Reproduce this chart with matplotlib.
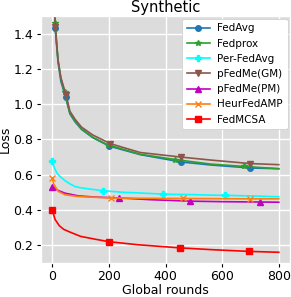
import numpy as np
import matplotlib
matplotlib.use("Agg")
import matplotlib.pyplot as plt

plt.style.use("ggplot")

# FedAvg
x_avg = [0, 5, 10, 20, 30, 47, 62, 80, 103, 143, 201, 310, 455, 560, 700, 800]
y_avg = [2.6, 1.8, 1.43, 1.24, 1.13, 1.038, 0.945, 0.90, 0.857, 0.81, 0.762, 0.714, 0.672, 0.655, 0.638, 0.634]
m_avg = [2, 5, 10, 12, 14]

# Fedprox
x_prox = [0, 5, 10, 20, 30, 43, 62, 80, 103, 143, 195, 310, 434, 560, 676, 800]
y_prox = [2.6, 1.8, 1.46, 1.25, 1.15, 1.067, 0.95, 0.905, 0.86, 0.812, 0.77, 0.716, 0.686, 0.66, 0.647, 0.634]
m_prox = [2, 5, 10, 12, 14]

# pFedMe(GM)
x_gm = [0, 5, 10, 20, 30, 49, 62, 80, 103, 143, 205, 310, 454, 560, 700, 800]
y_gm = [2.6, 1.8, 1.44, 1.25, 1.15, 1.05, 0.96, 0.915, 0.87, 0.825, 0.776, 0.726, 0.70, 0.683, 0.663, 0.657]
m_gm = [2, 5, 10, 12, 14]

# Per-FedAvg
x_per = [0, 4, 10, 18, 27, 45, 60, 80, 100, 126, 179, 220, 249, 300, 350, 390, 440, 500, 560, 610, 660, 720, 770, 800]
y_per = [0.676, 0.655, 0.629, 0.605, 0.59, 0.566, 0.55, 0.533, 0.526, 0.52, 0.509, 0.504, 0.50, 0.497, 0.493, 0.49, 0.488, 0.487, 0.484, 0.483, 0.481, 0.479, 0.476, 0.475]
m_per = [0, 10, 15, 19]

# pFedMe(PM)
x_pm = [0, 10, 21, 45, 91, 150, 237, 350, 485, 600, 735, 800]
y_pm = [0.533, 0.52, 0.51, 0.495, 0.48, 0.473, 0.468, 0.458, 0.45, 0.447, 0.445, 0.444]
m_pm = [0, 6, 8, 10]

# HeurFedAMP
x_heur = [0, 4, 10, 21, 45, 91, 208, 330, 460, 580, 700, 800]
y_heur = [0.58, 0.55, 0.533, 0.505, 0.486, 0.476, 0.468, 0.466, 0.465, 0.464, 0.463, 0.463]
m_heur = [0, 6, 8, 10]

# FedMCSA
x_mcsa = [0, 5, 10, 25, 40, 60, 100, 155, 200, 300, 450, 560, 695, 800]
y_mcsa = [0.40, 0.37, 0.345, 0.31, 0.29, 0.276, 0.25, 0.233, 0.22, 0.203, 0.185, 0.175, 0.165, 0.16]
m_mcsa = [0, 8, 10, 12]

fig, ax = plt.subplots(figsize=(2.91, 2.97), dpi=100)
ax.set_facecolor("#dcdcdc")
ax.grid(color="white", linewidth=1.0)

lw = 1.2
ax.plot(x_avg, y_avg, color="tab:blue", lw=lw, marker="o", markevery=m_avg, ms=4, label="FedAvg")
ax.plot(x_prox, y_prox, color="tab:green", lw=lw, marker="*", markevery=m_prox, ms=4, label="Fedprox")
ax.plot(x_per, y_per, color="cyan", lw=lw, marker="P", markevery=m_per, ms=4, label="Per-FedAvg")
ax.plot(x_gm, y_gm, color="tab:brown", lw=lw, marker="v", markevery=m_gm, ms=5, label="pFedMe(GM)")
ax.plot(x_pm, y_pm, color="m", lw=lw, marker="^", markevery=m_pm, ms=5, label="pFedMe(PM)")
ax.plot(x_heur, y_heur, color="tab:orange", lw=lw, marker="x", markevery=m_heur, ms=4, label="HeurFedAMP")
ax.plot(x_mcsa, y_mcsa, color="red", lw=lw, marker="s", markevery=m_mcsa, ms=4.5, label="FedMCSA")

ax.set_xlim(-40, 840)
ax.set_ylim(0.1, 1.5)
ax.set_xticks([0, 200, 400, 600, 800])
ax.set_yticks([0.2, 0.4, 0.6, 0.8, 1.0, 1.2, 1.4])
ax.tick_params(labelsize=9, colors="black", length=3, pad=2.5)
ax.set_xlabel("Global rounds", fontsize=9, color="black", labelpad=0.5)
ax.set_ylabel("Loss", fontsize=9, color="black", labelpad=1)
ax.set_title("Synthetic", fontsize=10.5, color="black", pad=3)
leg = ax.legend(loc="upper right", fontsize=7.5, facecolor="white", framealpha=1,
                labelspacing=0.5, handlelength=2.2, handletextpad=0.7,
                borderaxespad=0.25, borderpad=0.45)
for t in leg.get_texts():
    t.set_color("black")

plt.subplots_adjust(left=0.141, right=0.997, top=0.946, bottom=0.115)
plt.savefig("out.png", dpi=100)
